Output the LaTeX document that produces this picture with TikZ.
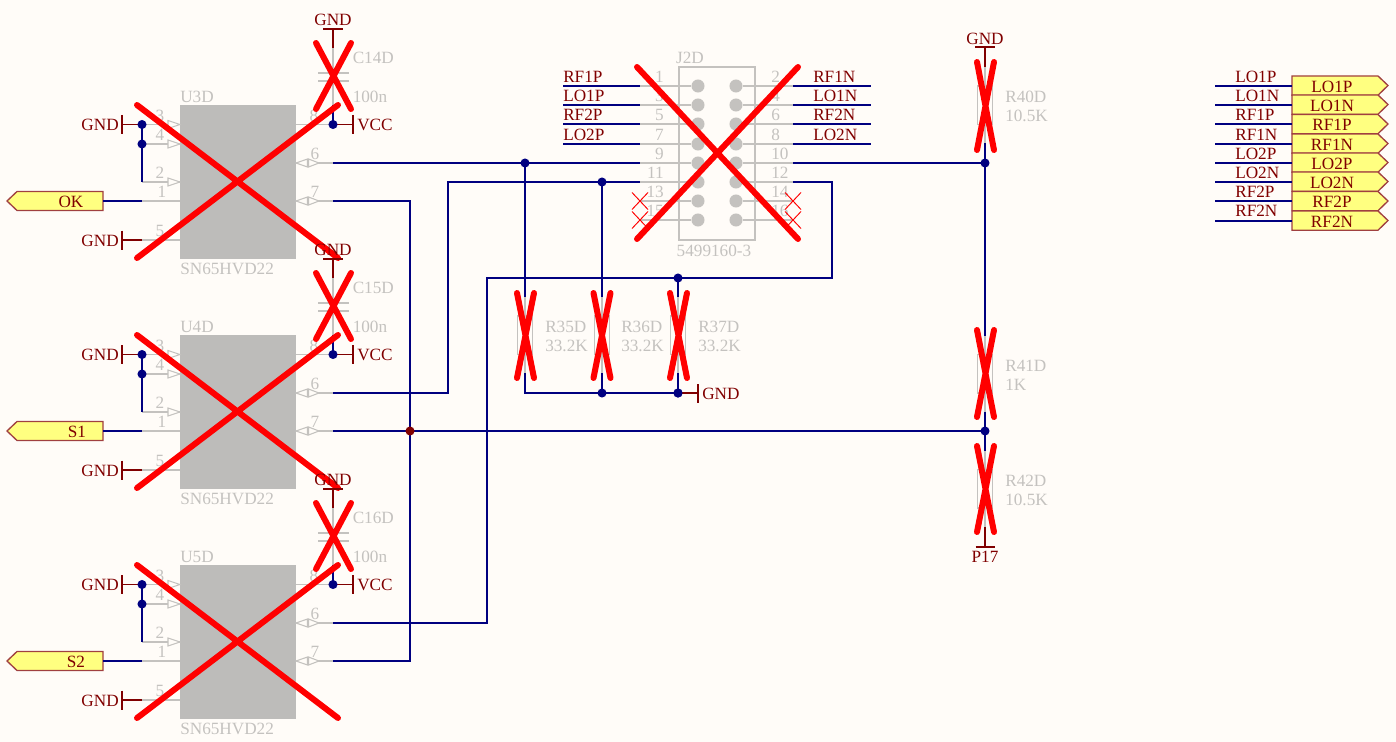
\documentclass[tikz,border=0pt]{standalone}
\usepackage{fontspec}
\usetikzlibrary{calc}
\setmainfont{Liberation Serif}
\definecolor{bg}{HTML}{FFFCF8}
\definecolor{wire}{HTML}{000080}
\definecolor{part}{HTML}{C4C2BF}
\definecolor{body}{HTML}{BDBCBA}
\definecolor{pwr}{HTML}{800000}
\definecolor{portfill}{HTML}{FFFF80}
\definecolor{portline}{HTML}{A04040}
\tikzset{
  wireline/.style={draw=wire,line width=1.5pt},
  partline/.style={draw=part,line width=1.4pt},
  pwrline/.style={draw=pwr,line width=1.4pt},
  bigcross/.style={draw=red,line width=4.5pt,line cap=round},
  smallcross/.style={draw=red,line width=0.7pt},
  dotw/.style={circle,fill=wire,inner sep=0pt,minimum size=6.8pt},
  dotr/.style={circle,fill=pwr,inner sep=0pt,minimum size=6.8pt},
  txt/.style={inner sep=0pt,font=\fontsize{12.9pt}{14pt}\selectfont},
  partlbl/.style={txt,text=part,yshift=-0.4pt},
  netlbl/.style={txt,text=pwr,yshift=-0.4pt},
  portbox/.style={draw=portline,line width=1pt,fill=portfill},
  pintri/.style={draw=part,line width=0.8pt,fill=bg},
  x=0.75pt,y=-0.75pt
}
\newcommand{\redx}[4]{\draw[bigcross] (#1,#2) -- (#3,#4) (#3,#2) -- (#1,#4);}
\begin{document}
\begin{tikzpicture}
\useasboundingbox[fill=bg] (0,0) rectangle (1396,742);

% ---------- the three transceivers: gray parts, named pin points
\foreach \u/\dy/\cn in {U3/0/C14D,U4/230/C15D,U5/460/C16D}{
  \fill[body] (180,105+\dy) rectangle (296,259+\dy);
  \node[partlbl,anchor=west] (\u-ref) at (180,96+\dy) {\u D};
  \node[partlbl,anchor=west] (\u-val) at (180,268+\dy) {SN65HVD22};
  \foreach \p/\py/\nx in {3/124.5/160,4/144/160,2/182/160,1/201/162,5/240/160}{
    \coordinate (\u-s\p) at (142,\py+\dy);
    \coordinate (\u-b\p) at (180,\py+\dy);
    \draw[partline] (\u-s\p) -- (\u-b\p);
    \node[partlbl] (\u-n\p) at (\nx,\py-9.5+\dy) {\p};
  }
  \foreach \py in {124.5,144,182}{
    \draw[pintri] (180,\py+\dy) -- (168,\py-4+\dy) -- (168,\py+4+\dy) -- cycle;
  }
  \foreach \p/\py/\nx in {8/124.5/314,6/163/315,7/201/315}{
    \coordinate (\u-s\p) at (333,\py+\dy);
    \coordinate (\u-b\p) at (296,\py+\dy);
    \draw[partline] (\u-s\p) -- (\u-b\p);
    \node[partlbl] (\u-n\p) at (\nx,\py-9.5+\dy) {\p};
  }
  \foreach \py in {163,201}{
    \draw[pintri] (296,\py+\dy) -- (307.5,\py-4+\dy) -- (307.5,\py+4+\dy) -- cycle;
    \draw[pintri] (319,\py+\dy) -- (308.5,\py-4+\dy) -- (308.5,\py+4+\dy) -- cycle;
  }
  % decoupling capacitor
  \coordinate (\cn-top) at (333,48+\dy);
  \coordinate (\cn-a) at (333,73+\dy);
  \coordinate (\cn-b) at (333,81+\dy);
  \coordinate (\cn-bot) at (333,105+\dy);
  \draw[partline] (\cn-top) -- (\cn-a) (\cn-b) -- (\cn-bot);
  \draw[partline] (318,73+\dy) -- (349,73+\dy) (318,81+\dy) -- (349,81+\dy);
  \node[partlbl,anchor=west] (\cn-ref) at (352.5,57.5+\dy) {\cn};
  \node[partlbl,anchor=west] (\cn-val) at (352.5,96.5+\dy) {100n};
  % wires local to the transceiver
  \draw[wireline] (\u-s3) -- (\u-s2);
  \draw[wireline] (\cn-bot) -- (\u-s8);
}

% ---------- connector J2D
\draw[partline] (679,67) rectangle (755,240);
\node[partlbl] (J2-ref) at (690,57) {J2D};
\node[partlbl] (J2-val) at (714,250) {5499160-3};
\foreach \l/\r/\y in {1/2/86,3/4/105,5/6/124,7/8/144,9/10/163,11/12/182,13/14/201,15/16/220}{
  \coordinate (J-l\l) at (640,\y);
  \coordinate (J-r\r) at (793,\y);
  \node[circle,fill=part,inner sep=0pt,minimum size=9.8pt] (J-p\l) at (698,\y) {};
  \node[circle,fill=part,inner sep=0pt,minimum size=9.8pt] (J-p\r) at (736,\y) {};
  \draw[partline] (J-l\l) -- (J-p\l);
  \draw[partline] (J-p\r) -- (J-r\r);
  \node[partlbl,anchor=east] (J-nl\l) at (664,\y-9.5) {\l};
  \node[partlbl,anchor=west] (J-nr\r) at (771,\y-9.5) {\r};
}
\foreach \n/\y/\t in {1/86/RF1P,3/105/LO1P,5/124/RF2P,7/144/LO2P}{
  \coordinate (JL\n) at (563,\y);
  \draw[wireline] (JL\n) -- (J-l\n);
  \node[netlbl,anchor=west] (JLt\n) at (563,\y-10) {\t};
}
\foreach \n/\y/\t in {2/86/RF1N,4/105/LO1N,6/124/RF2N,8/144/LO2N}{
  \coordinate (JR\n) at (871,\y);
  \draw[wireline] (J-r\n) -- (JR\n);
  \node[netlbl,anchor=west] (JRt\n) at (813,\y-10) {\t};
}
\foreach \k in {13,15}{
  \draw[smallcross] ($(J-l\k)+(-8,-8.5)$) -- ($(J-l\k)+(8,8.5)$) ($(J-l\k)+(8,-8.5)$) -- ($(J-l\k)+(-8,8.5)$);
}
\foreach \k in {14,16}{
  \draw[smallcross] ($(J-r\k)+(-8,-8.5)$) -- ($(J-r\k)+(8,8.5)$) ($(J-r\k)+(8,-8.5)$) -- ($(J-r\k)+(-8,8.5)$);
}

% ---------- resistors
\foreach \r/\x/\top/\v/\lx in {R35D/525/316/33.2K/545,R36D/602/316/33.2K/621,R37D/678/316/33.2K/698,R40D/985/86/10.5K/1005,R41D/985/354.5/1K/1005,R42D/985/469.5/10.5K/1005}{
  \coordinate (\r-t) at (\x,\top-19);
  \coordinate (\r-b) at (\x,\top+57);
  \draw[partline] (\r-t) -- (\r-b);
  \draw[partline] (\x-7.5,\top) rectangle (\x+7.5,\top+38.5);
  \node[partlbl,anchor=west] (\r-ref) at (\lx,\top+10.5) {\r};
  \node[partlbl,anchor=west] (\r-val) at (\lx,\top+29.5) {\v};
}

% ---------- junctions and wires
\coordinate (n1) at (525,163);
\coordinate (n2) at (602,182);
\coordinate (n3) at (678,278);
\coordinate (n4) at (985,163);
\coordinate (n5) at (985,431);
\coordinate (n6) at (410,431);
\coordinate (n7) at (602,393);
\coordinate (n8) at (678,393);
\coordinate (n9) at (525,393);
\draw[wireline] (U3-s6) -- (J-l9);
\draw[wireline] (J-r10) -- (n4);
\draw[wireline] (U3-s7) -- (410,201) -- (410,661) -- (U5-s7);
\draw[wireline] (U4-s7) -- (n5);
\draw[wireline] (U4-s6) -- (448,393) |- (J-l11);
\draw[wireline] (U5-s6) -- (487,623) |- (832,278) |- (J-r12);
\draw[wireline] (n1) -- (R35D-t);
\draw[wireline] (n2) -- (R36D-t);
\draw[wireline] (n3) -- (R37D-t);
\draw[wireline] (R35D-b) -- (n9) -- (n8) -- (R37D-b);
\draw[wireline] (R36D-b) -- (n7);
\draw[wireline] (n4) -- (R40D-b);
\draw[wireline] (n4) -- (R41D-t);
\draw[wireline] (R41D-b) -- (R42D-t);
\foreach \c in {n1,n2,n3,n4,n5,n7,n8}{ \node[dotw] at (\c) {}; }
\node[dotr] at (n6) {};

% ---------- bus on the right
\foreach \i/\y/\t/\ty in {1/76/LO1P/86,2/95/LO1N/105,3/114.5/RF1P/124,4/134/RF1N/144,5/153/LO2P/163,6/172/LO2N/182,7/191.5/RF2P/201,8/211/RF2N/220.5}{
  \draw[portbox] (1292,\y) -- (1378,\y) -- (1388,\y+9.5) -- (1378,\y+19.2) -- (1292,\y+19.2) -- cycle;
  \node[netlbl] (BP\i) at (1332,\y+10) {\t};
  \coordinate (BW\i) at (1215,\ty);
  \coordinate (BE\i) at (1292,\ty);
  \draw[wireline] (BW\i) -- (BE\i);
  \node[netlbl,anchor=west] (BT\i) at (1235,\ty-10) {\t};
}

% ---------- the red crosses
\foreach \dy in {0,230,460}{
  \redx{137}{105+\dy}{338}{258+\dy}
  \redx{316}{43+\dy}{351}{109+\dy}
}
\redx{637}{67}{798}{239}
\redx{517}{293}{534}{378}
\redx{593.5}{293}{610.5}{378}
\redx{670}{293}{687}{378}
\redx{977}{62}{994}{150}
\redx{977}{330}{994}{417}
\redx{977}{446}{994}{532}

% ---------- transceiver wires on ports, power symbols and port flags
\foreach \u/\dy/\sig/\sx/\cn in {U3/0/OK/71/C14D,U4/230/S1/77/C15D,U5/460/S2/76/C16D}{
  \draw[portbox] (7,201+\dy) -- (17,191.5+\dy) -- (103,191.5+\dy) -- (103,210.5+\dy) -- (17,210.5+\dy) -- cycle;
  \node[netlbl] (\u-flag) at (\sx,201+\dy) {\sig};
  \draw[wireline] (103,201+\dy) -- (\u-s1);
  % GND on pins 3 and 5
  \draw[pwrline] (\u-s3) -- (122,124.5+\dy);
  \draw[pwrline] (122,115+\dy) -- (122,134+\dy);
  \node[netlbl,anchor=east] (\u-g3) at (119,124.5+\dy) {GND};
  \draw[pwrline] (\u-s5) -- (122,240+\dy);
  \draw[pwrline] (122,230.5+\dy) -- (122,249.5+\dy);
  \node[netlbl,anchor=east] (\u-g5) at (119,240+\dy) {GND};
  \node[dotw] at (\u-s3) {};
  \node[dotw] at (\u-s4) {};
  % VCC
  \draw[pwrline] (\u-s8) -- (353,124.5+\dy);
  \draw[pwrline] (353,115+\dy) -- (353,134+\dy);
  \node[netlbl,anchor=west] (\u-vcc) at (357,124.5+\dy) {VCC};
  \node[dotw] at (\u-s8) {};
  % capacitor GND
  \draw[pwrline] (\cn-top) -- (333,29+\dy);
  \draw[pwrline] (323,29+\dy) -- (343,29+\dy);
  \node[netlbl] (\u-gc) at (333,19.5+\dy) {GND};
}
% R40 GND, R37 GND, R42 P17
\draw[pwrline] (R40D-t) -- (985,47);
\draw[pwrline] (975,47) -- (995,47);
\node[netlbl] (g40) at (985,38.5) {GND};
\draw[pwrline] (n8) -- (698,393);
\draw[pwrline] (698,384) -- (698,403);
\node[netlbl,anchor=west] (g37) at (702,393.5) {GND};
\draw[pwrline] (R42D-b) -- (985,547);
\draw[pwrline] (975.5,547) -- (994.5,547);
\node[netlbl] (p17) at (985,556.5) {P17};
\node[dotw] at (n8) {};
\end{tikzpicture}
\end{document}
